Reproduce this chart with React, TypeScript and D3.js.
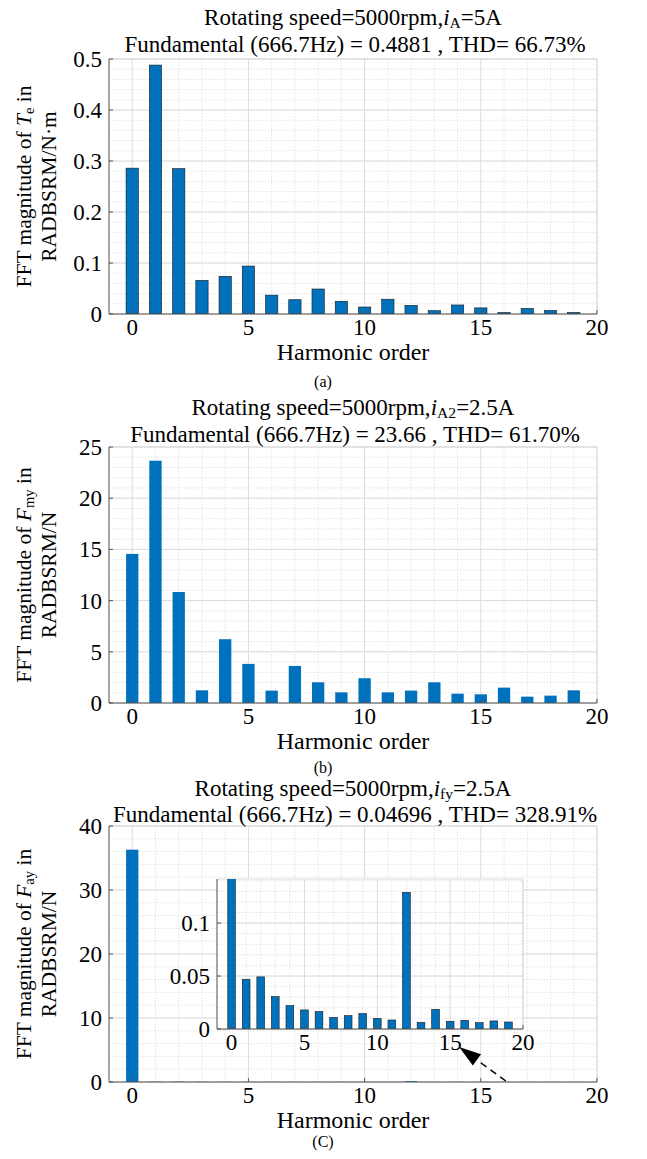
import React, { useEffect, useRef } from "react";
import * as d3 from "d3";

// harmonic orders shown on every panel
const orders = [0, 1, 2, 3, 4, 5, 6, 7, 8, 9, 10, 11, 12, 13, 14, 15, 16, 17, 18, 19];

// (a) torque Te
const teValues = [0.286, 0.4881, 0.285, 0.066, 0.074, 0.094, 0.037, 0.028, 0.049, 0.025, 0.0137, 0.029, 0.017, 0.0065, 0.0177, 0.012, 0.003, 0.011, 0.007, 0.003];
// (b) force Fmy
const fmyValues = [14.56, 23.66, 10.84, 1.24, 6.23, 3.82, 1.21, 3.62, 2.02, 1.04, 2.42, 1.04, 1.21, 2.02, 0.91, 0.85, 1.5, 0.62, 0.72, 1.24];
// (c) force Fay
const fayValues = [36.3, 0.04696, 0.0492, 0.0306, 0.0221, 0.018, 0.0164, 0.011, 0.0126, 0.0145, 0.0101, 0.0085, 0.129, 0.0063, 0.0186, 0.0073, 0.0082, 0.006, 0.0076, 0.0066];

const xTicks = [0, 5, 10, 15, 20];
const teTicks = [0, 0.1, 0.2, 0.3, 0.4, 0.5];
const fmyTicks = [0, 5, 10, 15, 20, 25];
const fayTicks = [0, 10, 20, 30, 40];
const insetTicks = [0, 0.05, 0.1];

type Run = { t: string; italic?: boolean; sub?: boolean };

const FONT = "'Liberation Serif', 'Times New Roman', serif";
const BLUE = "#0072BD";
const TICK_FS = 23;
const TITLE_FS = 23;
const XLAB_FS = 24;
const YLAB_FS = 21.5;

function addRuns(text: any, runs: Run[], size: number) {
  let shifted = false;
  runs.forEach((r) => {
    const ts = text.append("tspan").text(r.t);
    if (r.italic) ts.attr("font-style", "italic");
    if (r.sub) {
      ts.attr("font-size", size * 0.68).attr("dy", size * 0.12);
      shifted = true;
    } else if (shifted) {
      ts.attr("dy", -size * 0.12);
      shifted = false;
    }
  });
}

function drawAxes(g: any, o: any) {
  const x = d3.scaleLinear().domain([-1, 20]).range([o.left, o.right]);
  const y = d3.scaleLinear().domain([0, o.yMax]).range([o.bottom, o.top]);

  if (o.background) {
    g.append("rect")
      .attr("x", o.left).attr("y", o.top)
      .attr("width", o.right - o.left).attr("height", o.bottom - o.top)
      .attr("fill", "#fff");
  }

  // minor grid
  const grid = g.append("g");
  grid.selectAll(".vmin")
    .data(d3.range(-1, 21).filter((d) => !xTicks.includes(d)))
    .enter().append("line")
    .attr("x1", (d: number) => x(d)).attr("x2", (d: number) => x(d))
    .attr("y1", o.top).attr("y2", o.bottom)
    .attr("stroke", "#e4e4e4").attr("stroke-dasharray", "1.5,1.5");
  grid.selectAll(".hmin")
    .data(d3.range(0, o.yMax + 1e-9, o.minor))
    .enter().append("line")
    .attr("x1", o.left).attr("x2", o.right)
    .attr("y1", (d: number) => y(d)).attr("y2", (d: number) => y(d))
    .attr("stroke", "#e4e4e4").attr("stroke-dasharray", "1.5,1.5");
  // major grid
  grid.selectAll(".vmaj")
    .data(xTicks)
    .enter().append("line")
    .attr("x1", (d: number) => x(d)).attr("x2", (d: number) => x(d))
    .attr("y1", o.top).attr("y2", o.bottom)
    .attr("stroke", "#dcdcdc");
  grid.selectAll(".hmaj")
    .data(o.yTicks)
    .enter().append("line")
    .attr("x1", o.left).attr("x2", o.right)
    .attr("y1", (d: number) => y(d)).attr("y2", (d: number) => y(d))
    .attr("stroke", "#dcdcdc");
  g.append("line").attr("x1", o.left).attr("x2", o.right).attr("y1", o.top).attr("y2", o.top).attr("stroke", "#dcdcdc");
  g.append("line").attr("x1", o.right).attr("x2", o.right).attr("y1", o.top).attr("y2", o.bottom).attr("stroke", "#dcdcdc");

  // bars
  const clipId = "clip-" + o.id;
  g.append("clipPath").attr("id", clipId)
    .append("rect").attr("x", o.left).attr("y", o.top)
    .attr("width", o.right - o.left).attr("height", o.bottom - o.top);
  const bw = (x(1) - x(0)) * 0.53;
  g.append("g").attr("clip-path", `url(#${clipId})`)
    .selectAll("rect")
    .data(orders)
    .enter().append("rect")
    .attr("x", (d: number) => x(d) - bw / 2)
    .attr("y", (d: number, i: number) => y(o.values[i]))
    .attr("width", bw)
    .attr("height", (d: number, i: number) => Math.max(0, o.bottom - y(o.values[i])))
    .attr("fill", BLUE)
    .attr("stroke", o.edge ? "#1a1a1a" : "none")
    .attr("stroke-width", o.edge ? 0.6 : 0);

  // axis lines + inward ticks
  const ax = g.append("g").attr("stroke", "#555");
  ax.append("line").attr("x1", o.left).attr("x2", o.right).attr("y1", o.bottom).attr("y2", o.bottom);
  ax.append("line").attr("x1", o.left).attr("x2", o.left).attr("y1", o.top).attr("y2", o.bottom);
  ax.selectAll(".xt").data(xTicks).enter().append("line")
    .attr("x1", (d: number) => x(d)).attr("x2", (d: number) => x(d))
    .attr("y1", o.bottom).attr("y2", o.bottom - 4);
  ax.selectAll(".yt").data(o.yTicks).enter().append("line")
    .attr("x1", o.left).attr("x2", o.left + 4)
    .attr("y1", (d: number) => y(d)).attr("y2", (d: number) => y(d));

  // tick labels
  g.selectAll(".xl").data(xTicks).enter().append("text")
    .attr("x", (d: number) => x(d)).attr("y", o.bottom + 21)
    .attr("text-anchor", "middle").attr("font-size", TICK_FS)
    .text((d: number) => String(d));
  g.selectAll(".yl").data(o.yTicks).enter().append("text")
    .attr("x", o.left - 7).attr("y", (d: number) => y(d) + 8)
    .attr("text-anchor", "end").attr("font-size", TICK_FS)
    .text((d: number) => String(d));

  return { x, y };
}

const panels = [
  {
    id: "a", values: teValues, yMax: 0.5, yTicks: teTicks, minor: 0.02, edge: true,
    top: 59, bottom: 314, t1: 25, t2: 52, cap: "(a)", capY: 387,
    title1: [{ t: "Rotating speed=5000rpm," }, { t: "i", italic: true }, { t: "A", sub: true }, { t: "=5A" }],
    title2: [{ t: "Fundamental (666.7Hz) = 0.4881 , THD= 66.73%" }],
    ylab1: [{ t: "FFT magnitude of " }, { t: "T", italic: true }, { t: "e", sub: true }, { t: " in" }],
    ylab2: [{ t: "RADBSRM/N·m" }],
  },
  {
    id: "b", values: fmyValues, yMax: 25, yTicks: fmyTicks, minor: 1, edge: false,
    top: 447, bottom: 703, t1: 415, t2: 442, cap: "(b)", capY: 773,
    title1: [{ t: "Rotating speed=5000rpm," }, { t: "i", italic: true }, { t: "A2", sub: true }, { t: "=2.5A" }],
    title2: [{ t: "Fundamental (666.7Hz) = 23.66 , THD= 61.70%" }],
    ylab1: [{ t: "FFT magnitude of " }, { t: "F", italic: true }, { t: "my", sub: true }, { t: " in" }],
    ylab2: [{ t: "RADBSRM/N" }],
  },
  {
    id: "c", values: fayValues, yMax: 40, yTicks: fayTicks, minor: 2, edge: false,
    top: 826, bottom: 1082, t1: 796, t2: 822, cap: "(C)", capY: 1147,
    title1: [{ t: "Rotating speed=5000rpm," }, { t: "i", italic: true }, { t: "fy", sub: true }, { t: "=2.5A" }],
    title2: [{ t: "Fundamental (666.7Hz) = 0.04696 , THD= 328.91%" }],
    ylab1: [{ t: "FFT magnitude of " }, { t: "F", italic: true }, { t: "ay", sub: true }, { t: " in" }],
    ylab2: [{ t: "RADBSRM/N" }],
  },
];

const LEFT = 109;
const RIGHT = 597;

const App = () => {
  const svgRef = useRef<SVGSVGElement>(null);

  useEffect(() => {
    const svg = d3.select(svgRef.current);
    svg.selectAll("*").remove();
    const root = svg.append("g").attr("font-family", FONT).attr("fill", "#000");

    let mainC: any = null;
    panels.forEach((p) => {
      const g = root.append("g");
      const sc = drawAxes(g, { ...p, left: LEFT, right: RIGHT });
      if (p.id === "c") mainC = sc;
      const cx = (LEFT + RIGHT) / 2;

      addRuns(g.append("text").attr("x", cx).attr("y", p.t1).attr("text-anchor", "middle").attr("font-size", TITLE_FS), p.title1, TITLE_FS);
      addRuns(g.append("text").attr("x", cx + 2).attr("y", p.t2).attr("text-anchor", "middle").attr("font-size", TITLE_FS), p.title2, TITLE_FS);

      g.append("text").attr("x", cx).attr("y", p.bottom + 46)
        .attr("text-anchor", "middle").attr("font-size", XLAB_FS).text("Harmonic order");
      g.append("text").attr("x", 323).attr("y", p.capY)
        .attr("text-anchor", "middle").attr("font-size", 16).text(p.cap);

      const cy = (p.top + p.bottom) / 2;
      const l1 = g.append("text").attr("transform", `translate(31,${cy}) rotate(-90)`)
        .attr("text-anchor", "middle").attr("font-size", YLAB_FS);
      addRuns(l1, p.ylab1, YLAB_FS);
      const l2 = g.append("text").attr("transform", `translate(56,${cy}) rotate(-90)`)
        .attr("text-anchor", "middle").attr("font-size", YLAB_FS);
      addRuns(l2, p.ylab2, YLAB_FS);
    });

    // inset zoom of panel (c)
    const ig = root.append("g");
    const inset = drawAxes(ig, {
      id: "inset", values: fayValues, yMax: 0.1416, yTicks: insetTicks, minor: 0.01, edge: true,
      left: 217, right: 523, top: 879, bottom: 1029, background: true,
    });

    // dashed arrow from the main axis up to the inset's 15
    const tail: [number, number] = [mainC.x(15) + 25, mainC.y(0) - 1];
    const tip: [number, number] = [inset.x(15) + 9, inset.y(0) + 18];
    const ang = Math.atan2(tip[1] - tail[1], tip[0] - tail[0]);
    const len = 22, half = 7;
    const base: [number, number] = [tip[0] - len * Math.cos(ang), tip[1] - len * Math.sin(ang)];
    root.append("line")
      .attr("x1", tail[0]).attr("y1", tail[1]).attr("x2", base[0]).attr("y2", base[1])
      .attr("stroke", "#000").attr("stroke-width", 1.5).attr("stroke-dasharray", "7,5");
    const nx = -Math.sin(ang), ny = Math.cos(ang);
    root.append("path")
      .attr("d", d3.line()([
        tip,
        [base[0] + nx * half, base[1] + ny * half],
        [base[0] - nx * half, base[1] - ny * half],
      ]) + "Z")
      .attr("fill", "#000");
  }, []);

  return (
    <svg
      ref={svgRef}
      width={647}
      height={1159}
      style={{ position: "absolute", left: 0, top: 0, background: "#fff" }}
    />
  );
};

export default App;
